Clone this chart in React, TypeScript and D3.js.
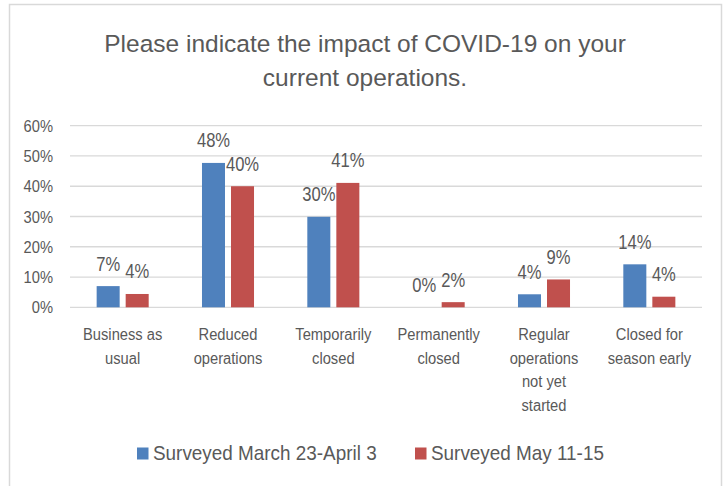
import React from 'react'
import * as d3 from 'd3'

// chart data
const categories = [
    ['Business as', 'usual'],
    ['Reduced', 'operations'],
    ['Temporarily', 'closed'],
    ['Permanently', 'closed'],
    ['Regular', 'operations', 'not yet', 'started'],
    ['Closed for', 'season early'],
]
const seriesNames = ['Surveyed March 23-April 3', 'Surveyed May 11-15']
const march = [0.07, 0.477, 0.299, 0, 0.043, 0.142]
const may = [0.044, 0.4, 0.411, 0.017, 0.092, 0.035]
const yTicks = [0, 0.1, 0.2, 0.3, 0.4, 0.5, 0.6]
const titleLines = ['Please indicate the impact of COVID-19 on your', 'current operations.']

const colors = ['#4F81BD', '#C0504D']
const textColor = '#595959'
const font = '"Liberation Sans", Arial, sans-serif'

// the original uses a condensed office font, so squeeze text a bit horizontally
const Txt = ({ x, y, sx = 1, size, anchor = 'start', children }: any) => (
    <text
        transform={`translate(${x},${y}) scale(${sx},1)`}
        textAnchor={anchor}
        fontFamily={font}
        fontSize={size}
        fill={textColor}
    >
        {children}
    </text>
)

const App = () => {
    const width = 726,
        height = 486

    // plot area
    const left = 70,
        right = 702,
        top = 125.7,
        bottom = 307.3

    const series = [march, may]
    const keys = categories.map(c => c.join(' '))

    const x0 = d3.scaleBand().domain(keys).range([left, right]).padding(0)
    const bw = x0.bandwidth()
    const x1 = d3.scaleBand()
        .domain(seriesNames)
        .range([bw * 0.253, bw * 0.747])
        .paddingInner(0.207)

    const y = d3.scaleLinear().domain([0, 0.6]).range([bottom, top])
    const fmt = d3.format('.0%')

    return (
        <svg width={width} height={height} style={{ position: 'absolute', left: 0, top: 0, display: 'block' }}>
            <rect x={0} y={0} width={width} height={height} fill="white" />
            {/* chart frame */}
            <rect x={9.5} y={4.5} width={712} height={500} fill="none" stroke="#D9D9D9" strokeWidth={1.5} />

            {/* title */}
            {titleLines.map((t, i) => (
                <Txt key={t} x={365} y={52 + i * 34} size={24.5} anchor="middle">{t}</Txt>
            ))}

            {/* gridlines + y axis labels */}
            {yTicks.map(t => (
                <g key={t}>
                    <line x1={left} x2={right} y1={y(t)} y2={y(t)} stroke="#D9D9D9" strokeWidth={1.3} />
                    <Txt x={53} y={y(t) + 6} sx={0.875} size={16.8} anchor="end">{fmt(t)}</Txt>
                </g>
            ))}

            {/* bars and labels */}
            {series.map((vals, si) =>
                vals.map((v, ci) => {
                    const bx = x0(keys[ci])! + x1(seriesNames[si])!
                    return (
                        <g key={`${si}-${ci}`}>
                            <rect x={bx} y={y(v)} width={x1.bandwidth()} height={bottom - y(v)} fill={colors[si]} />
                            <Txt x={bx + x1.bandwidth() / 2} y={y(v) - 15.5} sx={0.85} size={19.5} anchor="middle">
                                {fmt(v)}
                            </Txt>
                        </g>
                    )
                })
            )}

            {/* category labels */}
            {categories.map((lines, ci) =>
                lines.map((l, li) => (
                    <Txt key={`${ci}-${li}`} x={x0(keys[ci])! + bw / 2} y={340 + li * 23.5} sx={0.92} size={16} anchor="middle">
                        {l}
                    </Txt>
                ))
            )}

            {/* legend */}
            {seriesNames.map((s, i) => {
                const lx = i === 0 ? 137 : 415
                return (
                    <g key={s}>
                        <rect x={lx} y={447.5} width={11.5} height={12} fill={colors[i]} />
                        <Txt x={lx + 16} y={460} sx={0.9} size={21}>{s}</Txt>
                    </g>
                )
            })}
        </svg>
    )
}

export default App
